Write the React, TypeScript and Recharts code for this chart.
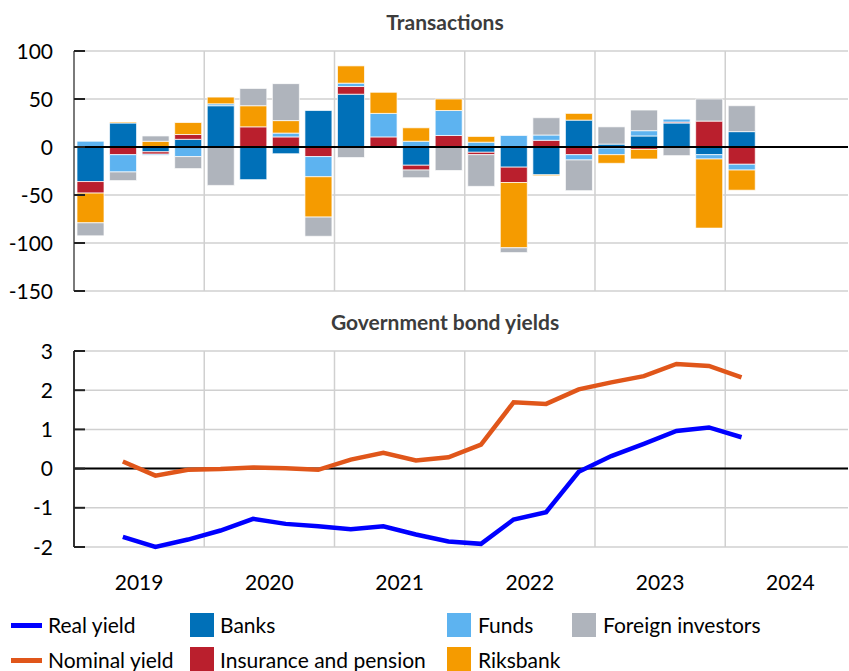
import React from 'react';
import { BarChart, Bar, LineChart, Line, XAxis, YAxis, CartesianGrid, ReferenceLine } from 'recharts';

const quarters = ['2019Q1','2019Q2','2019Q3','2019Q4','2020Q1','2020Q2','2020Q3','2020Q4','2021Q1','2021Q2','2021Q3','2021Q4','2022Q1','2022Q2','2022Q3','2022Q4','2023Q1','2023Q2','2023Q3','2023Q4','2024Q1'];
const banks = [-36, 25, -5, 8, 43, -34, -7, 38, 55, 0, -19, 0, -5.5, -21, -29, 28, 3, 11.5, 25, -8, 16];
const insurance = [-12, -8, -2.5, 5, 0, 21, 10.5, -10, 8, 10.5, -5, 12, -2.5, -16, 7, -8, -1, -2.5, 1, 27, -18];
const funds = [6, -18, -1, -10, 2, 0, 4, -21, 3.5, 24.5, 6, 26, 5, 12, 5.5, -5.5, -7, 5.5, 3, -4.5, -6];
const riksbank = [-31, 1, 6, 12.5, 7, 22, 13, -42, 18, 22, 14, 12, 6, -68, -1, 7, -9, -10, 0, -72, -21];
const foreign = [-13.5, -9, 5.5, -12.5, -40, 18, 38.5, -20, -11, 0, -8, -24.5, -33, -5, 18, -32, 18, 21.5, -9, 23, 27];

const realYield = [null, -1.74, -2.0, -1.81, -1.58, -1.28, -1.41, -1.47, -1.55, -1.47, -1.68, -1.86, -1.92, -1.30, -1.11, -0.08, 0.32, 0.63, 0.96, 1.05, 0.80];
const nominalYield = [null, 0.18, -0.18, -0.03, -0.01, 0.03, 0.01, -0.03, 0.23, 0.40, 0.21, 0.29, 0.61, 1.69, 1.65, 2.02, 2.20, 2.36, 2.67, 2.62, 2.33];

const yearLabels = ['2019', '2020', '2021', '2022', '2023', '2024'];
const barTicks = [-150, -100, -50, 0, 50, 100];
const yieldTicks = [-2, -1, 0, 1, 2, 3];

const FONT = 'Lato, sans-serif';
const C = {
  banks: '#0070B8',
  insurance: '#BA1F2D',
  funds: '#5DB3F0',
  riksbank: '#F59B00',
  foreign: '#AFB4BC',
  real: '#0000FF',
  nominal: '#E0561A',
};

const rows = quarters.map((q, i) => ({
  q,
  x: i + 0.5,
  banks: banks[i],
  insurance: insurance[i],
  funds: funds[i],
  riksbank: riksbank[i],
  foreign: foreign[i],
  real: realYield[i],
  nominal: nominalYield[i],
}));

const X_DOMAIN: [number, number] = [0, 23.77];
const yearBounds = [4, 8, 12, 16, 20];
const yearTickPos = yearLabels.map((_, i) => i * 4 + 2);

const TICK_MARGIN = 21;

const YTick = (props: any) => {
  const { x, y, payload } = props;
  const ax = x + TICK_MARGIN;
  return (
    <g>
      <line x1={ax} x2={ax + 11} y1={y} y2={y} stroke="#222" strokeWidth={2} />
      <text x={x} y={y} dy="0.36em" textAnchor="end" fontSize={21} fontFamily={FONT} fill="#000">
        {payload.value}
      </text>
    </g>
  );
};

const titleStyle: React.CSSProperties = {
  position: 'absolute',
  left: 0,
  width: 890,
  textAlign: 'center',
  fontFamily: FONT,
  fontWeight: 700,
  fontSize: 21,
  color: '#3c3c3c',
  lineHeight: '26px',
};

const legendText: React.CSSProperties = {
  position: 'absolute',
  fontFamily: FONT,
  fontSize: 21,
  lineHeight: '26px',
  color: '#000',
  whiteSpace: 'nowrap',
};

const barStroke = 'rgba(255,255,255,0.7)';

export default function App() {
  const seriesBars = [
    { key: 'banks', color: C.banks },
    { key: 'insurance', color: C.insurance },
    { key: 'funds', color: C.funds },
    { key: 'riksbank', color: C.riksbank },
    { key: 'foreign', color: C.foreign },
  ];
  return (
    <div style={{ position: 'absolute', left: 0, top: 0, width: 849, height: 671, background: '#fff', overflow: 'hidden' }}>
      <div style={{ ...titleStyle, top: 9 }}>Transactions</div>
      <div style={{ position: 'absolute', left: 0, top: 0 }}>
        <BarChart width={849} height={312} data={rows} stackOffset="sign" barSize={27}
          margin={{ top: 51, right: 1, bottom: 21, left: 0 }}>
          <CartesianGrid vertical={false} stroke="#d0d0d0" strokeWidth={1.5} />
          <XAxis type="number" dataKey="x" domain={X_DOMAIN} hide allowDataOverflow />
          <YAxis domain={[-150, 100]} ticks={barTicks} width={74} tickSize={0} tickMargin={TICK_MARGIN}
            tickLine={false} axisLine={{ stroke: '#7a7a7a', strokeWidth: 2 }} tick={<YTick />} interval={0} />
          {yearBounds.map((b) => (
            <ReferenceLine key={b} x={b} stroke="#d0d0d0" strokeWidth={1.5} />
          ))}
          {seriesBars.map((s) => (
            <Bar key={s.key} dataKey={s.key} stackId="a" fill={s.color} stroke={barStroke} strokeWidth={1}
              isAnimationActive={false} />
          ))}
          <ReferenceLine y={0} stroke="#000" strokeWidth={2} />
        </BarChart>
      </div>

      <div style={{ ...titleStyle, top: 309 }}>Government bond yields</div>
      <div style={{ position: 'absolute', left: 0, top: 300 }}>
        <LineChart width={849} height={300} data={rows} margin={{ top: 51, right: 1, bottom: 0, left: 0 }}>
          <CartesianGrid vertical={false} stroke="#d0d0d0" strokeWidth={1.5} />
          <XAxis type="number" dataKey="x" domain={X_DOMAIN} ticks={yearTickPos} interval={0}
            tickFormatter={(v: number) => yearLabels[Math.round((v - 2) / 4)]}
            tickLine={false} axisLine={false} height={53} tickMargin={22}
            tick={{ fontSize: 21, fontFamily: FONT, fill: '#000' }} allowDataOverflow />
          <YAxis domain={[-2, 3]} ticks={yieldTicks} width={74} tickSize={0} tickMargin={TICK_MARGIN}
            tickLine={false} axisLine={{ stroke: '#333', strokeWidth: 2 }} tick={<YTick />} interval={0} />
          {yearBounds.map((b) => (
            <ReferenceLine key={b} x={b} stroke="#d0d0d0" strokeWidth={1.5} />
          ))}
          <ReferenceLine y={0} stroke="#000" strokeWidth={2} />
          <Line type="linear" dataKey="real" stroke={C.real} strokeWidth={4.5} dot={false}
            isAnimationActive={false} />
          <Line type="linear" dataKey="nominal" stroke={C.nominal} strokeWidth={4.5} dot={false}
            isAnimationActive={false} />
        </LineChart>
      </div>

      {/* Legend */}
      <div style={{ position: 'absolute', left: 11, top: 623, width: 31, height: 5, background: C.real }} />
      <div style={{ ...legendText, left: 48, top: 612 }}>Real yield</div>
      <div style={{ position: 'absolute', left: 190, top: 613, width: 24, height: 24, background: C.banks }} />
      <div style={{ ...legendText, left: 220, top: 612 }}>Banks</div>
      <div style={{ position: 'absolute', left: 447, top: 613, width: 24, height: 24, background: C.funds }} />
      <div style={{ ...legendText, left: 478, top: 612 }}>Funds</div>
      <div style={{ position: 'absolute', left: 572, top: 613, width: 24, height: 24, background: C.foreign }} />
      <div style={{ ...legendText, left: 603, top: 612 }}>Foreign investors</div>

      <div style={{ position: 'absolute', left: 11, top: 658, width: 31, height: 5, background: C.nominal }} />
      <div style={{ ...legendText, left: 48, top: 647 }}>Nominal yield</div>
      <div style={{ position: 'absolute', left: 190, top: 647, width: 24, height: 24, background: C.insurance }} />
      <div style={{ ...legendText, left: 220, top: 647 }}>Insurance and pension</div>
      <div style={{ position: 'absolute', left: 447, top: 647, width: 24, height: 24, background: C.riksbank }} />
      <div style={{ ...legendText, left: 478, top: 647 }}>Riksbank</div>
    </div>
  );
}
